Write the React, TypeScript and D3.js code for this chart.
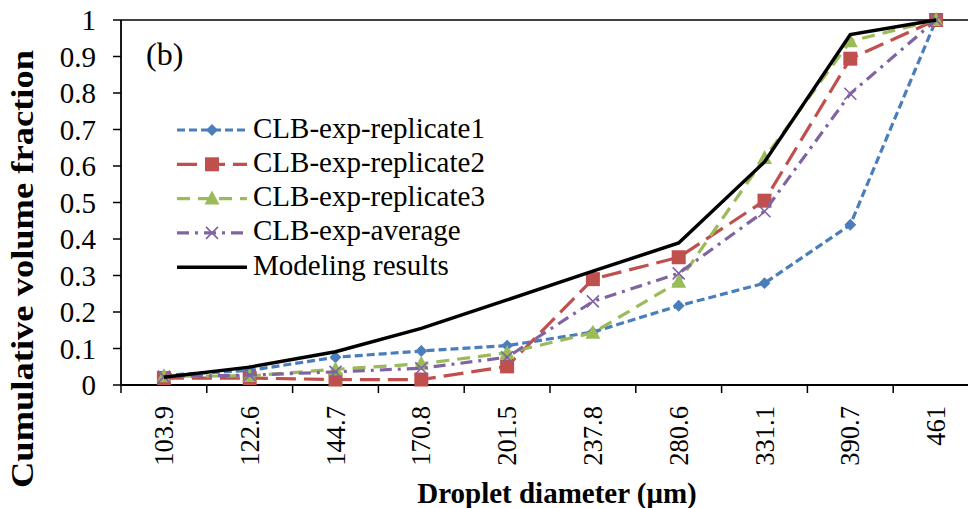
import React, { useEffect, useRef } from "react";
import * as d3 from "d3";

const categories = ["103.9", "122.6", "144.7", "170.8", "201.5", "237.8", "280.6", "331.1", "390.7", "461"];
const replicate1 = [0.027, 0.04, 0.076, 0.093, 0.108, 0.145, 0.217, 0.279, 0.439, 1.0];
const replicate2 = [0.019, 0.019, 0.015, 0.015, 0.051, 0.29, 0.35, 0.505, 0.894, 1.0];
const replicate3 = [0.024, 0.025, 0.043, 0.058, 0.088, 0.143, 0.283, 0.622, 0.942, 1.0];
const average = [0.023, 0.027, 0.036, 0.046, 0.076, 0.229, 0.306, 0.476, 0.798, 1.0];
const modeling = [0.021, 0.049, 0.091, 0.155, 0.233, 0.312, 0.389, 0.611, 0.96, 1.0];
const yTicks = [0, 0.1, 0.2, 0.3, 0.4, 0.5, 0.6, 0.7, 0.8, 0.9, 1];

const series = [
    { name: "CLB-exp-replicate1", values: replicate1, color: "#4a7ebb", dash: "8,4", width: 3.2, marker: "diamond" },
    { name: "CLB-exp-replicate2", values: replicate2, color: "#c0504d", dash: "20,8", width: 3.2, marker: "square" },
    { name: "CLB-exp-replicate3", values: replicate3, color: "#9bbb59", dash: "13,8", width: 3.2, marker: "triangle" },
    { name: "CLB-exp-average", values: average, color: "#8064a2", dash: "12,6,3,6", width: 3.2, marker: "x" },
    { name: "Modeling results", values: modeling, color: "#000000", dash: null, width: 3.5, marker: null },
];

const FONT = "'Liberation Serif', 'Times New Roman', serif";

function drawMarker(g, type, color, x, y) {
    if (type === "diamond") {
        g.append("path")
            .attr("d", d3.symbol().type(d3.symbolDiamond2).size(90)())
            .attr("transform", `translate(${x},${y})`)
            .attr("fill", color);
    } else if (type === "square") {
        g.append("rect")
            .attr("x", x - 7).attr("y", y - 7)
            .attr("width", 14).attr("height", 14)
            .attr("fill", color);
    } else if (type === "triangle") {
        g.append("path")
            .attr("d", `M${x},${y - 8}L${x + 7.5},${y + 6}L${x - 7.5},${y + 6}Z`)
            .attr("fill", color);
    } else if (type === "x") {
        g.append("path")
            .attr("d", `M${x - 6},${y - 6}L${x + 6},${y + 6}M${x - 6},${y + 6}L${x + 6},${y - 6}`)
            .attr("stroke", color)
            .attr("stroke-width", 1.6)
            .attr("fill", "none");
    }
}

const App = () => {
    const svgRef = useRef(null);

    useEffect(() => {
        const svg = d3.select(svgRef.current);
        svg.selectAll("*").remove();

        const left = 121, top = 20, bottom = 385, right = 979;

        const x = d3.scaleBand().domain(categories).range([left, right]);
        const y = d3.scaleLinear().domain([0, 1]).range([bottom, top]);
        const cx = c => x(c) + x.bandwidth() / 2;

        // top border line
        svg.append("line")
            .attr("x1", left).attr("x2", right)
            .attr("y1", y(1)).attr("y2", y(1))
            .attr("stroke", "#000").attr("stroke-width", 1.5);

        // y axis
        svg.append("line")
            .attr("x1", left).attr("x2", left)
            .attr("y1", top).attr("y2", bottom)
            .attr("stroke", "#000").attr("stroke-width", 1.8);
        const yt = svg.append("g");
        yTicks.forEach(t => {
            yt.append("line")
                .attr("x1", left - 8).attr("x2", left)
                .attr("y1", y(t)).attr("y2", y(t))
                .attr("stroke", "#000").attr("stroke-width", 1.5);
            yt.append("text")
                .attr("x", 96).attr("y", y(t))
                .attr("dy", "0.36em")
                .attr("text-anchor", "end")
                .attr("font-family", FONT)
                .attr("font-size", 29)
                .text(d3.format("")(t));
        });

        // x axis
        svg.append("line")
            .attr("x1", left).attr("x2", right)
            .attr("y1", bottom).attr("y2", bottom)
            .attr("stroke", "#000").attr("stroke-width", 1.8);
        categories.forEach(c => {
            svg.append("line")
                .attr("x1", x(c)).attr("x2", x(c))
                .attr("y1", bottom).attr("y2", bottom + 8)
                .attr("stroke", "#000").attr("stroke-width", 1.5);
            svg.append("text")
                .attr("transform", `translate(${cx(c)},${bottom + 21}) rotate(-90)`)
                .attr("dy", "0.34em")
                .attr("text-anchor", "end")
                .attr("font-family", FONT)
                .attr("font-size", 26.5)
                .text(c);
        });

        // series
        const line = d3.line().x((d, i) => cx(categories[i])).y(d => y(d));
        series.forEach(s => {
            const g = svg.append("g");
            g.append("path")
                .datum(s.values)
                .attr("d", line)
                .attr("fill", "none")
                .attr("stroke", s.color)
                .attr("stroke-width", s.width)
                .attr("stroke-dasharray", s.dash);
            if (s.marker) {
                s.values.forEach((v, i) => drawMarker(g, s.marker, s.color, cx(categories[i]), y(v)));
            }
        });

        // legend
        const lg = svg.append("g");
        series.forEach((s, i) => {
            const ly = 130 + i * 34.3;
            lg.append("line")
                .attr("x1", 177).attr("x2", 247)
                .attr("y1", ly).attr("y2", ly)
                .attr("stroke", s.color)
                .attr("stroke-width", s.width)
                .attr("stroke-dasharray", s.dash);
            if (s.marker) drawMarker(lg, s.marker, s.color, 212, ly);
            lg.append("text")
                .attr("x", 253).attr("y", ly + 7.5)
                .attr("font-family", FONT)
                .attr("font-size", 29)
                .text(s.name);
        });

        svg.append("text")
            .attr("x", 146).attr("y", 65)
            .attr("font-family", FONT)
            .attr("font-size", 32)
            .text("(b)");

        // axis titles
        svg.append("text")
            .attr("transform", `translate(33,269) rotate(-90)`)
            .attr("text-anchor", "middle")
            .attr("font-family", FONT)
            .attr("font-weight", "bold")
            .attr("font-size", 32)
            .attr("textLength", 438)
            .attr("lengthAdjust", "spacingAndGlyphs")
            .text("Cumulative volume fraction");

        svg.append("text")
            .attr("x", 557).attr("y", 503)
            .attr("text-anchor", "middle")
            .attr("font-family", FONT)
            .attr("font-weight", "bold")
            .attr("font-size", 29)
            .text("Droplet diameter (\u03bcm)");
    }, []);

    return (
        <svg
            ref={svgRef}
            width={968}
            height={508}
            style={{ position: "absolute", left: 0, top: 0, background: "#fff" }}
        />
    );
};

export default App;
